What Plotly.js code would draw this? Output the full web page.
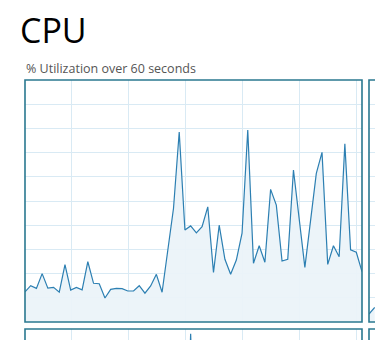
<!DOCTYPE html>
<html>
<head>
<meta charset="utf-8">
<script src="https://cdn.plot.ly/plotly-3.0.1.min.js"></script>
<style>html,body{margin:0;padding:0;background:#fff;}#chart{width:375px;height:340px;}</style>
</head>
<body>
<div id="chart"></div>
<script>
// Seconds (one sample per second, 60 samples across the window)
const seconds = [0,1,2,3,4,5,6,7,8,9,10,11,12,13,14,15,16,17,18,19,20,21,22,23,24,25,26,27,28,29,
                 30,31,32,33,34,35,36,37,38,39,40,41,42,43,44,45,46,47,48,49,50,51,52,53,54,55,56,57,58,59];
// % CPU utilization (main graph)
const cpuUtil = [12.5,15.0,13.9,20.0,14.0,14.3,12.3,23.7,13.2,14.3,13.3,24.9,16.0,15.8,9.9,13.5,13.9,13.8,12.8,12.8,
                 15.0,11.9,14.9,19.7,12.3,30.0,47.0,78.5,38.0,39.7,36.8,39.4,47.6,20.5,40.0,25.9,19.7,25.6,36.7,79.3,
                 24.3,31.5,24.7,54.8,48.3,25.2,25.9,62.8,42.7,22.6,42.0,61.4,70.1,23.8,31.5,27.0,73.6,29.8,28.8,20.8];
// Neighbouring graphs (only their edges are visible)
const rightSeconds = [0,1];
const rightUtil = [3.3,6.0];
const lowerSeconds = [28,29,30];
const lowerUtil = [20,98,25];

const W = 375, H = 340;
const px = v => v / W;
const py = v => 1 - v / H;

const lineColor = '#2c7fb2';
const fillColor = 'rgba(235,243,249,0.95)';
const gridColor = '#d9eaf4';
const borderColor = '#2a7890';

const traces = [
  {x: seconds, y: cpuUtil, type: 'scatter', mode: 'lines', fill: 'tozeroy',
   line: {color: lineColor, width: 1.2}, fillcolor: fillColor, xaxis: 'x', yaxis: 'y', hoverinfo: 'skip'},
  {x: rightSeconds, y: rightUtil, type: 'scatter', mode: 'lines', fill: 'tozeroy',
   line: {color: lineColor, width: 1.2}, fillcolor: fillColor, xaxis: 'x2', yaxis: 'y2', hoverinfo: 'skip'},
  {x: lowerSeconds, y: lowerUtil, type: 'scatter', mode: 'lines', fill: 'tozeroy',
   line: {color: lineColor, width: 1.2}, fillcolor: fillColor, xaxis: 'x3', yaxis: 'y3', hoverinfo: 'skip'}
];

const hiddenAxis = {showticklabels: false, ticks: '', zeroline: false, showline: false, fixedrange: true};
const mainYDomain = [1 - 322 / H, 1 - 80 / H];

const layout = {
  width: W, height: H,
  margin: {l: 0, r: 0, t: 0, b: 0, pad: 0},
  paper_bgcolor: '#ffffff', plot_bgcolor: '#ffffff',
  showlegend: false,
  title: {text: 'CPU', x: 20 / W, xanchor: 'left', xref: 'container', y: 1 - 31 / H, yanchor: 'middle', yref: 'container',
          font: {family: 'Open Sans, sans-serif', size: 34, color: '#000000'}, pad: {t: 0, b: 0, l: 0, r: 0}},
  xaxis: Object.assign({}, hiddenAxis, {domain: [25 / W, 362 / W], range: [0, 59], anchor: 'y',
          showgrid: true, gridcolor: gridColor, gridwidth: 1, tickmode: 'linear', tick0: 8.1, dtick: 10}),
  yaxis: Object.assign({}, hiddenAxis, {domain: mainYDomain, range: [0, 100], anchor: 'x',
          showgrid: true, gridcolor: gridColor, gridwidth: 1, tickmode: 'linear', tick0: 0, dtick: 10}),
  xaxis2: Object.assign({}, hiddenAxis, {domain: [369 / W, 1], range: [0, 6 / 5.712], anchor: 'y2', showgrid: false}),
  yaxis2: Object.assign({}, hiddenAxis, {domain: mainYDomain, range: [0, 100], anchor: 'x2',
          showgrid: true, gridcolor: gridColor, gridwidth: 1, tickmode: 'linear', tick0: 0, dtick: 10}),
  xaxis3: Object.assign({}, hiddenAxis, {domain: [25 / W, 362 / W], range: [0, 59], anchor: 'y3',
          showgrid: true, gridcolor: gridColor, gridwidth: 1, tickmode: 'linear', tick0: 8.1, dtick: 10}),
  yaxis3: Object.assign({}, hiddenAxis, {domain: [0, 11 / H], range: [100 - 11 / 2.42, 100], anchor: 'x3', showgrid: false}),
  annotations: [
    {text: '% Utilization over 60 seconds', xref: 'paper', yref: 'paper', x: 24 / W, y: py(68.5),
     xanchor: 'left', yanchor: 'middle', showarrow: false,
     font: {family: 'Open Sans, sans-serif', size: 12.5, color: '#555555'}}
  ],
  shapes: [
    {type: 'rect', xref: 'paper', yref: 'paper', x0: px(25), x1: px(362), y0: py(322), y1: py(80),
     line: {color: borderColor, width: 1.6}, fillcolor: 'rgba(0,0,0,0)'},
    {type: 'rect', xref: 'paper', yref: 'paper', x0: px(369), x1: px(400), y0: py(322), y1: py(80),
     line: {color: borderColor, width: 1.6}, fillcolor: 'rgba(0,0,0,0)'},
    {type: 'rect', xref: 'paper', yref: 'paper', x0: px(25), x1: px(362), y0: py(380), y1: py(329),
     line: {color: borderColor, width: 1.6}, fillcolor: 'rgba(0,0,0,0)'},
    {type: 'rect', xref: 'paper', yref: 'paper', x0: px(369), x1: px(400), y0: py(380), y1: py(329),
     line: {color: borderColor, width: 1.6}, fillcolor: 'rgba(0,0,0,0)'}
  ]
};

Plotly.newPlot('chart', traces, layout, {displayModeBar: false, staticPlot: true});
</script>
</body>
</html>
